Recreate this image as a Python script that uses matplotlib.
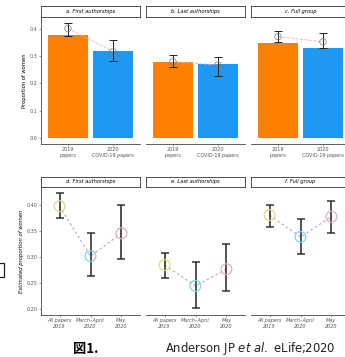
import numpy as np
import matplotlib.pyplot as plt
from matplotlib.patches import Rectangle

plt.rcParams['font.family'] = ['DejaVu Sans', 'Noto Sans CJK JP']

# top row: observed proportions
top_titles = ["a. First authorships", "b. Last authorships", "c. Full group"]
top_cats = ["2019\npapers", "2020\nCOVID-19 papers"]
bar_vals = [[0.378, 0.320], [0.280, 0.272], [0.347, 0.329]]
pt_vals = [[0.402, 0.317], [0.280, 0.268], [0.372, 0.353]]
pt_lo = [[0.374, 0.282], [0.262, 0.228], [0.353, 0.329]]
pt_hi = [[0.423, 0.360], [0.305, 0.296], [0.394, 0.384]]

# bottom row: model estimates
bot_titles = ["d. First authorships", "e. Last authorships", "f. Full group"]
bot_cats = ["All papers\n2019", "March\u2013April\n2020", "May\n2020"]
est = [[0.398, 0.302, 0.346], [0.285, 0.245, 0.277], [0.381, 0.339, 0.378]]
est_lo = [[0.375, 0.264, 0.296], [0.261, 0.202, 0.236], [0.358, 0.306, 0.347]]
est_hi = [[0.424, 0.346, 0.401], [0.309, 0.291, 0.325], [0.401, 0.373, 0.408]]

W, H = 345, 357
fig = plt.figure(figsize=(W / 100, H / 100), dpi=100)


def px_axes(x0, y0, x1, y1):
    return fig.add_axes([x0 / W, 1 - y1 / H, (x1 - x0) / W, (y1 - y0) / H])


panel_x = [(41, 140), (146, 245), (251, 350)]
bar_cols = ["#ff8000", "#1e98f0"]
pt_cols = ["#e8d77c", "#7fd6ea", "#e7a9c6"]
fs = 3.5


def style(ax, first):
    for s in ["top", "right"]:
        ax.spines[s].set_visible(False)
    ax.spines["bottom"].set_color("#444444")
    ax.spines["bottom"].set_linewidth(0.6)
    ax.spines["left"].set_color("#444444")
    ax.spines["left"].set_linewidth(0.6)
    ax.spines["left"].set_visible(first)
    ax.tick_params(length=1.5, width=0.4, pad=1, labelsize=fs, colors="#555555")
    if not first:
        ax.tick_params(axis="y", left=False, labelleft=False)


def strip(x0, x1, y0, y1, text):
    s = px_axes(x0, y0, x1, y1)
    s.set_xticks([])
    s.set_yticks([])
    for sp in s.spines.values():
        sp.set_linewidth(0.6)
        sp.set_color("#333333")
    s.text(0.5, 0.5, text, ha="center", va="center", fontsize=fs + 0.2, style="italic")


for i, (x0, x1) in enumerate(panel_x):
    ax = px_axes(x0, 17, x1, 144)
    xs = np.arange(1, len(top_cats) + 1)
    ax.bar(xs, bar_vals[i], width=0.9, color=bar_cols)
    ax.plot(xs, pt_vals[i], ls="--", color="#f3b0b0", lw=0.6, zorder=3)
    ax.errorbar(xs, pt_vals[i],
                yerr=[np.subtract(pt_vals[i], pt_lo[i]), np.subtract(pt_hi[i], pt_vals[i])],
                fmt="none", ecolor="#222222", elinewidth=0.7, capsize=3, capthick=0.7, zorder=4)
    ax.scatter(xs, pt_vals[i], s=22, facecolor="none", edgecolor="#777777", lw=0.5, zorder=5)
    ax.set_xlim(0.4, 2.6)
    ax.set_ylim(-0.022, 0.444)
    ax.set_xticks(xs)
    ax.set_xticklabels(top_cats)
    ax.set_yticks([0.0, 0.1, 0.2, 0.3, 0.4])
    ax.set_yticklabels(["0.0", "0.1", "0.2", "0.3", "0.4"])
    style(ax, i == 0)
    if i == 0:
        ax.set_ylabel("Proportion of women", fontsize=fs + 0.3, labelpad=2)
    strip(x0, x1, 6, 17, top_titles[i])

for i, (x0, x1) in enumerate(panel_x):
    ax = px_axes(x0, 187, x1, 315)
    xs = np.arange(1, len(bot_cats) + 1)
    ax.plot(xs, est[i], ls=(0, (2, 2)), color="#b9a9d6", lw=0.9, zorder=2)
    ax.errorbar(xs, est[i],
                yerr=[np.subtract(est[i], est_lo[i]), np.subtract(est_hi[i], est[i])],
                fmt="none", ecolor="#333333", elinewidth=1.2, capsize=3, capthick=1.1, zorder=3)
    ax.scatter(xs, est[i], s=60, facecolor="none", edgecolor=pt_cols, lw=0.9, zorder=4)
    ax.set_xlim(0.4, 3.6)
    ax.set_ylim(0.189, 0.435)
    ax.set_xticks(xs)
    ax.set_xticklabels(bot_cats, style="italic")
    ax.set_yticks([0.20, 0.25, 0.30, 0.35, 0.40])
    ax.set_yticklabels(["0.20", "0.25", "0.30", "0.35", "0.40"])
    style(ax, i == 0)
    if i == 0:
        ax.set_ylabel("Estimated proportion of women", fontsize=fs + 0.3, labelpad=2, style="italic")
    strip(x0, x1, 177, 187, bot_titles[i])

# stray box fragment at the left edge
fig.patches.append(Rectangle((-8 / W, 1 - 277 / H), 12 / W, 14 / H, transform=fig.transFigure,
                             fill=False, lw=0.9, ec="#222222"))

fig.text(73 / W, 1 - 353 / H, "図1.", fontsize=9.5, fontweight="bold",
         family=["Noto Sans CJK JP", "DejaVu Sans"])
fig.text(165 / W, 1 - 352 / H, "Anderson JP $\\it{et\\ al.}$ eLife;2020", fontsize=8.4, color="#222222")

fig.savefig("out.png", dpi=100)
